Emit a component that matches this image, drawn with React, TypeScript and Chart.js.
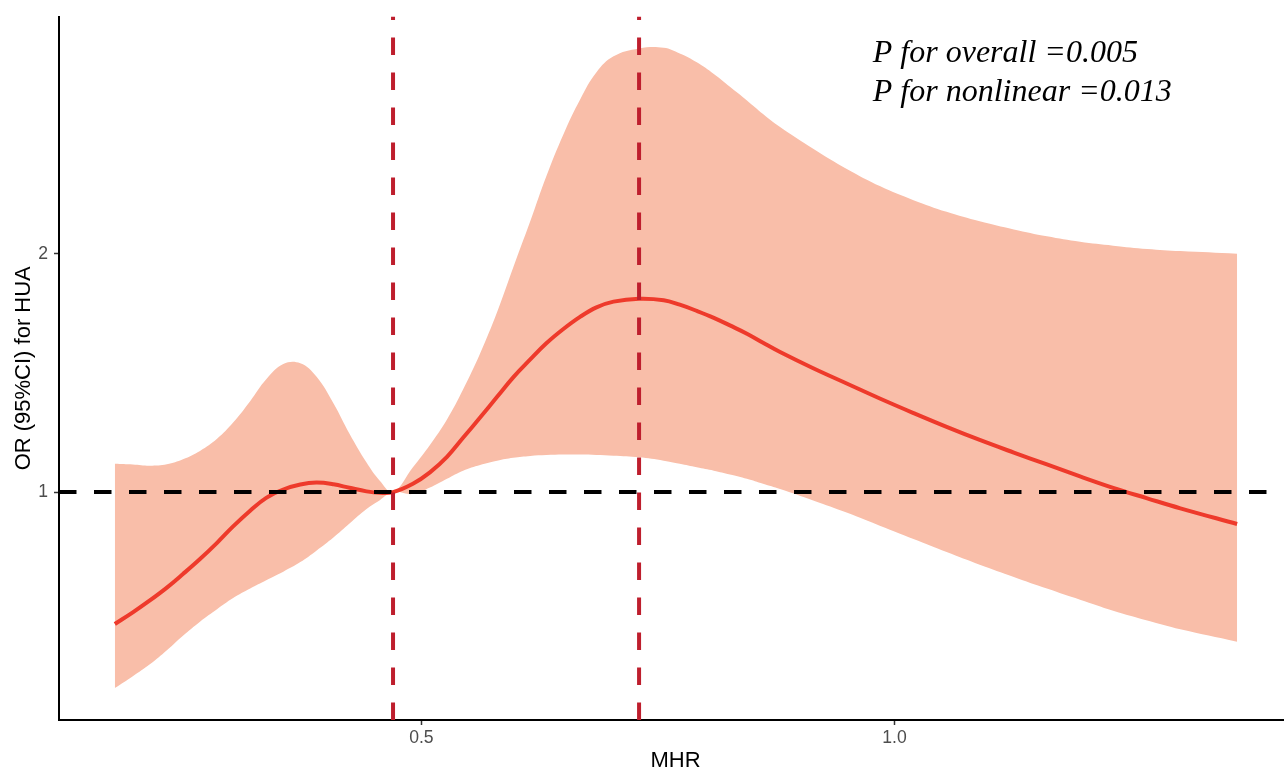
import React, { useEffect, useRef } from "react";
import { Chart, registerables } from "chart.js";

Chart.register(...registerables);

// ---- data ----
const MHR = [
  0.176, 0.195, 0.213, 0.231, 0.248, 0.266, 0.284, 0.301, 0.319, 0.336, 0.354, 0.372, 0.389, 0.407,
  0.424, 0.442, 0.456, 0.47,
  0.491, 0.509, 0.527, 0.544, 0.562, 0.58, 0.597, 0.615, 0.632, 0.65, 0.668, 0.685, 0.703, 0.73,
  0.756, 0.773, 0.791, 0.809, 0.826, 0.844, 0.861, 0.879,
  0.914, 0.95, 0.985, 1.02, 1.055, 1.09, 1.126, 1.161, 1.196, 1.231, 1.267, 1.302, 1.362,
];
const OR_EST = [
  0.446, 0.495, 0.545, 0.599, 0.656, 0.719, 0.787, 0.856, 0.922, 0.976, 1.011, 1.032, 1.04, 1.033,
  1.018, 1.003, 0.997, 1.0,
  1.035, 1.083, 1.148, 1.228, 1.313, 1.4, 1.482, 1.557, 1.625, 1.685, 1.737, 1.776, 1.8, 1.812,
  1.806, 1.787, 1.761, 1.732, 1.7, 1.665, 1.627, 1.588,
  1.52, 1.455, 1.392, 1.332, 1.274, 1.219, 1.166, 1.116, 1.066, 1.018, 0.974, 0.932, 0.866,
];
const OR_UPPER = [
  1.119, 1.116, 1.111, 1.117, 1.138, 1.173, 1.224, 1.292, 1.382, 1.474, 1.538, 1.541, 1.485, 1.373,
  1.245, 1.124, 1.048, 1.0,
  1.104, 1.198, 1.305, 1.431, 1.582, 1.756, 1.943, 2.137, 2.326, 2.502, 2.651, 2.763, 2.83, 2.863,
  2.866, 2.842, 2.805, 2.756, 2.702, 2.645, 2.588, 2.533,
  2.442, 2.356, 2.284, 2.226, 2.177, 2.137, 2.103, 2.074, 2.051, 2.035, 2.021, 2.012, 2.001,
];
const OR_LOWER = [
  0.177, 0.227, 0.277, 0.336, 0.397, 0.456, 0.508, 0.555, 0.595, 0.63, 0.666, 0.706, 0.754, 0.809,
  0.868, 0.929, 0.966, 1.0,
  0.992, 1.019, 1.056, 1.09, 1.114, 1.132, 1.144, 1.152, 1.156, 1.158, 1.158, 1.156, 1.153, 1.146,
  1.132, 1.119, 1.104, 1.09, 1.074, 1.056, 1.035, 1.013,
  0.965, 0.913, 0.858, 0.803, 0.748, 0.695, 0.644, 0.595, 0.548, 0.502, 0.461, 0.424, 0.372,
];
const REF_LINES_X = [0.47, 0.73];
const REF_OR = 1;
const X_RANGE = [0.117, 1.42];
const Y_RANGE = [0.043, 2.997];
const X_TICKS = [0.5, 1.0];
const Y_TICKS = [1, 2];
const X_TITLE = "MHR";
const Y_TITLE = "OR (95%CI) for HUA";
const ANNOTATION_LINES = ["P for overall =0.005", "P for nonlinear =0.013"];
const ANNOTATION_X = 0.977;
const ANNOTATION_Y = [2.805, 2.641];

const AXIS_FONT = '"Liberation Sans", Arial, sans-serif';

const annotationPlugin = {
  id: "pValueText",
  afterDraw(chart: any) {
    const { ctx, scales } = chart;
    const xs = scales.x;
    const ys = scales.y;
    ctx.save();
    ctx.font = 'italic 32px "Liberation Serif", "Times New Roman", serif';
    ctx.fillStyle = "#000";
    ctx.textAlign = "left";
    ctx.textBaseline = "alphabetic";
    ANNOTATION_LINES.forEach((t, i) => {
      ctx.fillText(t, xs.getPixelForValue(ANNOTATION_X), ys.getPixelForValue(ANNOTATION_Y[i]));
    });
    ctx.restore();
  },
};

function pts(ys: number[]) {
  return MHR.map((x, i) => ({ x, y: ys[i] }));
}

export default function App() {
  const ref = useRef<HTMLCanvasElement | null>(null);

  useEffect(() => {
    if (!ref.current) return;
    const dash = [17.5, 17.5];
    const smooth = { tension: 0.4, cubicInterpolationMode: "default" };
    const chart = new Chart(ref.current, {
      type: "line",
      data: {
        datasets: [
          {
            label: "lower",
            data: pts(OR_LOWER),
            borderColor: "rgba(0,0,0,0)",
            borderWidth: 1,
            pointRadius: 0,
            fill: false,
            ...smooth,
            order: 4,
          },
          {
            label: "upper",
            data: pts(OR_UPPER),
            borderColor: "rgba(0,0,0,0)",
            borderWidth: 1,
            pointRadius: 0,
            fill: "-1",
            backgroundColor: "#f9bea9",
            ...smooth,
            order: 3,
          },
          {
            label: "OR",
            data: pts(OR_EST),
            borderColor: "#ee3a2b",
            borderWidth: 4,
            pointRadius: 0,
            fill: false,
            ...smooth,
            order: 2,
          },
          {
            label: "ref",
            data: [
              { x: X_RANGE[0], y: REF_OR },
              { x: X_RANGE[1], y: REF_OR },
            ],
            borderColor: "#000",
            borderWidth: 4,
            borderDash: dash,
            pointRadius: 0,
            fill: false,
            order: 1,
          },
          ...REF_LINES_X.map((v) => ({
            label: "v" + v,
            data: [
              { x: v, y: Y_RANGE[0] },
              { x: v, y: Y_RANGE[1] },
            ],
            borderColor: "#be1e2d",
            borderWidth: 4,
            borderDash: dash,
            pointRadius: 0,
            fill: false,
            order: 0,
          })),
        ],
      },
      options: {
        animation: false,
        responsive: false,
        devicePixelRatio: 1,
        layout: { padding: { top: 16, right: 11, left: 0, bottom: 0 } },
        plugins: { legend: { display: false }, tooltip: { enabled: false } },
        scales: {
          x: {
            type: "linear",
            min: X_RANGE[0],
            max: X_RANGE[1],
            afterBuildTicks: (s: any) => {
              s.ticks = X_TICKS.map((v) => ({ value: v }));
            },
            afterFit: (s: any) => {
              s.height = 52;
            },
            ticks: {
              callback: (v: any) => Number(v).toFixed(1),
              color: "#4d4d4d",
              font: { family: AXIS_FONT, size: 17.6 },
              padding: 3,
              maxRotation: 0,
              autoSkip: false,
            },
            grid: {
              display: true,
              drawOnChartArea: false,
              drawTicks: true,
              tickLength: 5,
              tickColor: "#333",
              tickWidth: 1.5,
            },
            border: { display: true, color: "#000", width: 2 },
            title: {
              display: true,
              text: X_TITLE,
              color: "#000",
              font: { family: AXIS_FONT, size: 22, lineHeight: 1 },
              padding: { top: 0, bottom: 0 },
            },
          },
          y: {
            type: "linear",
            min: Y_RANGE[0],
            max: Y_RANGE[1],
            afterBuildTicks: (s: any) => {
              s.ticks = Y_TICKS.map((v) => ({ value: v }));
            },
            afterFit: (s: any) => {
              s.width = 59;
            },
            ticks: {
              callback: (v: any) => String(v),
              color: "#4d4d4d",
              font: { family: AXIS_FONT, size: 17.6 },
              padding: 6,
              autoSkip: false,
            },
            grid: {
              display: true,
              drawOnChartArea: false,
              drawTicks: true,
              tickLength: 5,
              tickColor: "#333",
              tickWidth: 1.5,
            },
            border: { display: true, color: "#000", width: 2 },
            title: {
              display: true,
              text: Y_TITLE,
              color: "#000",
              font: { family: AXIS_FONT, size: 22, lineHeight: 1.2 },
              padding: { top: 11, bottom: 0 },
            },
          },
        },
      },
      plugins: [annotationPlugin],
    } as any);
    return () => chart.destroy();
  }, []);

  return (
    <div
      style={{
        position: "absolute",
        left: 0,
        top: 0,
        width: 1284,
        height: 772,
        overflow: "hidden",
        background: "#fff",
      }}
    >
      <canvas ref={ref} width={1303} height={772} style={{ display: "block", width: 1303, height: 772 }} />
    </div>
  );
}
